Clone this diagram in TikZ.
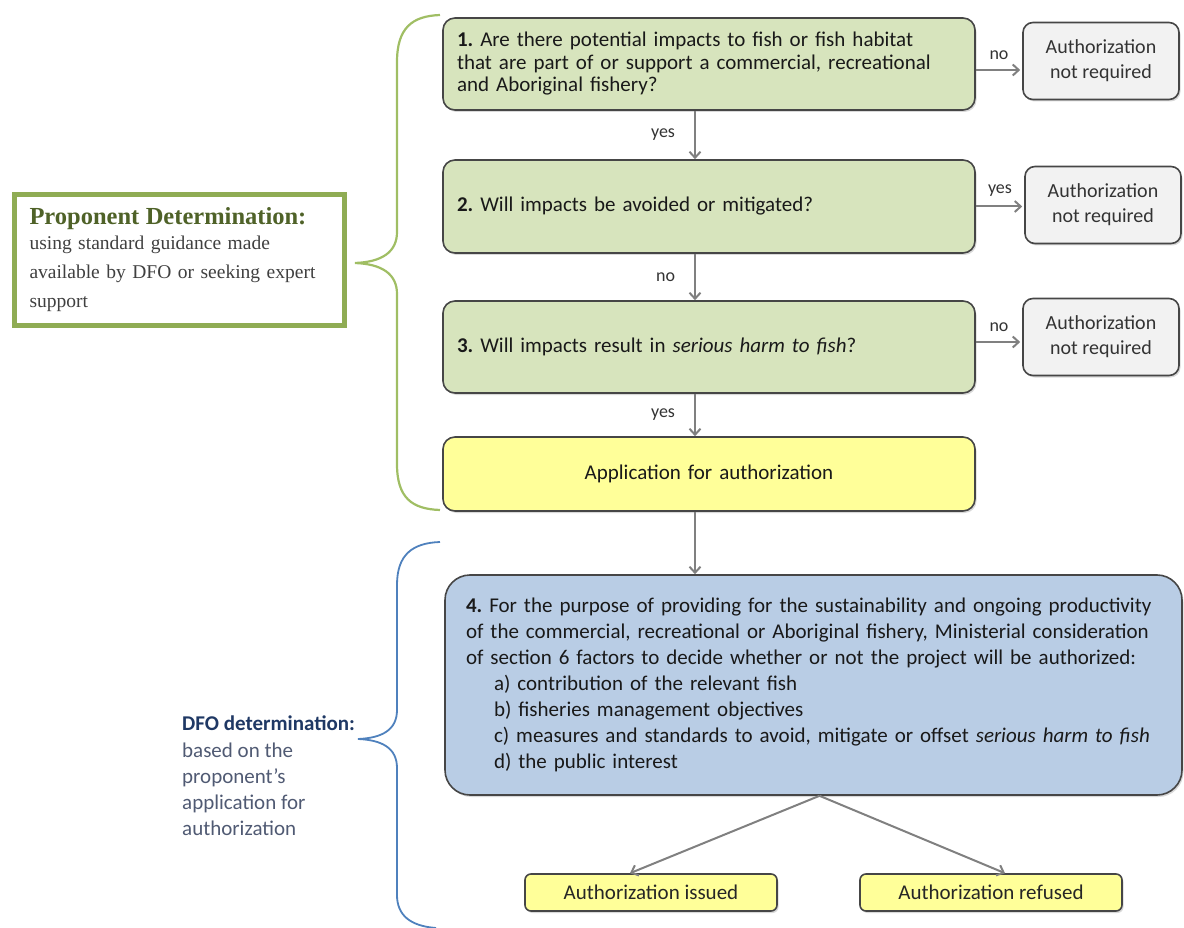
\documentclass[tikz,border=0pt]{standalone}
\usepackage{fontspec}
\setmainfont{Carlito}
\newfontfamily\propserif{Liberation Serif}
\usetikzlibrary{arrows.meta,shadows}
\definecolor{qgreen}{RGB}{215,228,189}
\definecolor{boxgrey}{RGB}{242,242,242}
\definecolor{appyellow}{RGB}{255,255,153}
\definecolor{dfoblue}{RGB}{185,205,229}
\definecolor{bracegreen}{RGB}{160,190,100}
\definecolor{braceblue}{RGB}{79,129,189}
\definecolor{edgegrey}{RGB}{70,70,70}
\definecolor{arrowgrey}{RGB}{128,128,128}
\definecolor{propgreen}{RGB}{143,172,84}
\definecolor{proptext}{RGB}{79,98,40}
\definecolor{dfonavy}{RGB}{31,56,100}
\definecolor{dfogrey}{RGB}{80,90,115}
\frenchspacing

\begin{document}
\begin{tikzpicture}[x=1pt, y=-1pt,
  flow/.style={draw=arrowgrey, line width=2pt, -{Straight Barb[length=6pt,width=11pt]}},
  lbl/.style={font=\fontsize{18}{20}\selectfont, text=black!80, inner sep=1pt},
  boxshadow/.style={drop shadow={shadow xshift=1.5pt, shadow yshift=-2pt, opacity=0.3}},
  question/.style={boxshadow, draw=edgegrey, line width=1.6pt, fill=qgreen, rounded corners=12pt,
    minimum width=532pt, minimum height=92pt, text width=504pt, inner xsep=14pt, align=left,
    font=\fontsize{21}{22.5}\selectfont, text=black!90},
  skipbox/.style={boxshadow, draw=edgegrey, line width=1.6pt, fill=boxgrey, rounded corners=10pt,
    minimum width=156pt, minimum height=77pt, align=center, text=black!80, font=\fontsize{20}{25}\selectfont},
  outcome/.style={boxshadow, draw=edgegrey, line width=1.6pt, fill=appyellow, rounded corners=6pt,
    minimum height=37pt, text=black!85, font=\fontsize{21}{24}\selectfont}
]
\useasboundingbox (0,0) rectangle (1184,928);

\node[question] (q1) at (709,64) {\textbf{1.} Are there potential impacts to fish or fish habitat\\that are part of or support a commercial, recreational\\and Aboriginal fishery?};
\node[question, minimum height=93pt] (q2) at (709,206.5) {\textbf{2.} Will impacts be avoided or mitigated?};
\node[question] (q3) at (709,347) {\textbf{3.} Will impacts result in \textit{serious harm to fish}?};
\node[question, fill=appyellow, minimum height=74pt, align=center] (app) at (709,474) {Application for authorization};

\foreach \n/\x/\y in {skip1/1101/61, skip2/1103/205, skip3/1101/337}
  \node[skipbox] (\n) at (\x,\y) {Authorization\\not required};

\node[question, fill=dfoblue, rounded corners=25pt, minimum width=737pt, minimum height=220pt,
  text width=695pt, inner xsep=21pt, font=\fontsize{21}{26}\selectfont] (q4) at (813.5,685)
  {\textbf{4.} For the purpose of providing for the sustainability and ongoing productivity\\
   of the commercial, recreational or Aboriginal fishery, Ministerial consideration\\
   of section 6 factors to decide whether or not the project will be authorized:\\
   \hspace*{28pt}a) contribution of the relevant fish\\
   \hspace*{28pt}b) fisheries management objectives\\
   \hspace*{28pt}c) measures and standards to avoid, mitigate or offset \textit{serious harm to fish}\\
   \hspace*{28pt}d) the public interest};

\node[outcome, minimum width=252pt] (issued) at (651,892.5) {Authorization issued};
\node[outcome, minimum width=262pt] (refused) at (991,892.5) {Authorization refused};

\node[draw=propgreen, line width=5pt, fill=white, minimum width=330pt, minimum height=131pt,
  text width=300pt, inner xsep=15pt, align=left, text=black!75,
  font=\propserif\fontsize{19.5}{29}\selectfont] (prop) at (179.5,260)
  {{\color{proptext}\bfseries\fontsize{24.5}{29}\selectfont Proponent Determination:}\\[-4pt]
   using standard guidance made\\ available by DFO or seeking expert\\ support};

\node[align=left, anchor=west, inner sep=0pt, text=dfogrey, font=\fontsize{21}{26.2}\selectfont] (dfo) at (182,776)
  {{\color{dfonavy}\bfseries DFO determination:}\\ based on the\\ proponent's\\ application for\\ authorization};

\draw[flow] ([xshift=-14pt]q1.south) -- node[lbl, left=18pt] {yes} ([xshift=-14pt]q2.north);
\draw[flow] ([xshift=-14pt]q2.south) -- node[lbl, left=18pt] {no} ([xshift=-14pt]q3.north);
\draw[flow] ([xshift=-14pt]q3.south) -- node[lbl, left=18pt] {yes} ([xshift=-14pt]app.north);
\draw[flow] ([xshift=-14pt]app.south) -- ([xshift=-14pt]app.south |- q4.north);

\draw[flow, shorten >=2pt] ([yshift=-6pt]q1.east) -- node[lbl, above=8pt] {no} ([yshift=-6pt]q1.east -| skip1.west);
\draw[flow, shorten >=2pt] (q2.east) -- node[lbl, above=8pt] {yes} (q2.east -| skip2.west);
\draw[flow, shorten >=2pt] ([yshift=5pt]q3.east) -- node[lbl, above=8pt] {no} ([yshift=5pt]q3.east -| skip3.west);

\draw[flow] ([xshift=6pt]q4.south) -- ([xshift=-21pt]issued.north);
\draw[flow] ([xshift=6pt]q4.south) -- ([xshift=14pt]refused.north);

\draw[bracegreen, line width=2.2pt] (440,15) .. controls (412,16) and (397,28) .. (397,62) -- (397,232)
  .. controls (397,252) and (382,262) .. (355,263) .. controls (382,264) and (397,274) .. (397,294)
  -- (397,464) .. controls (397,498) and (412,509) .. (440,510);
\draw[braceblue, line width=1.8pt] (440,542) .. controls (412,543) and (397,555) .. (397,585) -- (397,710)
  .. controls (397,730) and (382,738) .. (358,739) .. controls (382,740) and (397,748) .. (397,768)
  -- (397,895) .. controls (397,915) and (410,926) .. (436,928);
\end{tikzpicture}
\end{document}
